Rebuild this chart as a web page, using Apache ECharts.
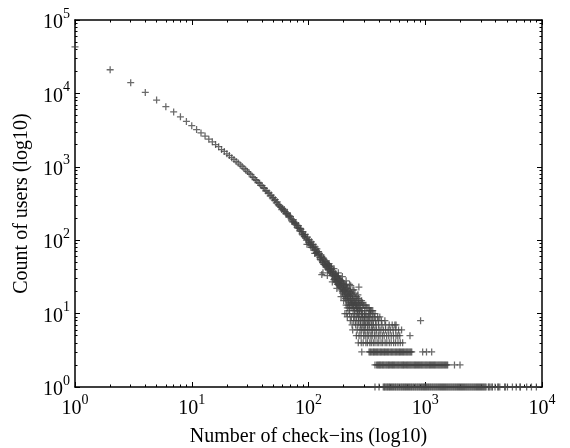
<!DOCTYPE html>
<html>
<head>
<meta charset="utf-8">
<script src="https://cdn.jsdelivr.net/npm/echarts@6/dist/echarts.min.js"></script>
<style>
  html, body { margin: 0; padding: 0; background: #fff; }
  #main { width: 570px; height: 448px; }
</style>
</head>
<body>
<div id="main"></div>
<script>
// check-in counts 1..30, one point each
var headX = [1, 2, 3, 4, 5, 6, 7, 8, 9, 10, 11, 12, 13, 14, 15, 16, 17, 18, 19, 20, 21, 22, 23, 24, 25, 26, 27, 28, 29, 30];
var headY = [43000, 21000, 14000, 10300, 8100, 6600, 5600, 4800, 4150, 3630, 3220, 2890, 2620, 2380, 2190, 2010, 1880, 1720, 1620, 1500, 1420, 1330, 1260, 1185, 1130, 1060, 1010, 950, 905, 860];

// the thick middle band, [check-ins, users]
var bandPoints = [
  [31, 822], [32, 786], [33, 731], [34, 712], [35, 668], [36, 652], [37, 611], [38, 598], [39, 560], [40, 552],
  [41, 520], [42, 509], [43, 470], [44, 471], [45, 437], [46, 441], [47, 401], [48, 412], [49, 376], [50, 380],
  [51, 351], [52, 356], [53, 322], [54, 333], [55, 306], [56, 300], [57, 289], [58, 281], [59, 262], [60, 271],
  [61, 250], [62, 262], [63, 245], [64, 230], [65, 228], [66, 236], [67, 220], [68, 206], [69, 215], [70, 210],
  [71, 195], [72, 184], [73, 178], [74, 190], [75, 178], [76, 165], [77, 172], [78, 170], [79, 160], [80, 150],
  [81, 146], [82, 158], [83, 145], [84, 134], [85, 145], [86, 141], [87, 131], [88, 122], [89, 118], [90, 130],
  [91, 119], [92, 112], [93, 114], [94, 120], [95, 106], [96, 100], [97, 88], [98, 110], [99, 101], [100, 94],
  [101, 88], [102, 101], [103, 92], [104, 86], [105, 80], [106, 95], [107, 87], [108, 79], [109, 83], [110, 88],
  [111, 79], [112, 73], [113, 66], [114, 81], [115, 74], [116, 66], [117, 68], [118, 76], [119, 70], [120, 62],
  [121, 64], [122, 70], [124, 66], [125, 58], [126, 55], [127, 54], [128, 63], [129, 58], [130, 60], [130, 34],
  [131, 52], [132, 50], [133, 49], [133, 36], [134, 57], [135, 47], [136, 55], [137, 47], [138, 52], [139, 45],
  [140, 52], [141, 43], [142, 50], [143, 44], [144, 47], [145, 42], [145, 33], [146, 48], [147, 40], [148, 46],
  [149, 39], [150, 45], [150, 48], [151, 41], [152, 44], [153, 37], [154, 38], [155, 36], [156, 41], [157, 43],
  [158, 40], [159, 35], [160, 34], [160, 27], [161, 33], [162, 36], [163, 38], [164, 37], [165, 29], [165, 41],
  [166, 32], [167, 30], [168, 34], [169, 29], [170, 35], [171, 27], [172, 33], [173, 28], [174, 31], [175, 27],
  [175, 22], [176, 32], [177, 25], [178, 30], [179, 26], [180, 33], [180, 36], [181, 25], [182, 30], [183, 24],
  [184, 28], [185, 24], [186, 29], [187, 23], [188, 28], [189, 21], [190, 26], [190, 17], [191, 22], [192, 28],
  [193, 24], [194, 27], [195, 20], [195, 32], [196, 19], [197, 21], [198, 26], [199, 23], [200, 25], [200, 15],
  [201, 18], [202, 21], [203, 20], [204, 24], [205, 17], [206, 23], [207, 16], [208, 21], [209, 18], [210, 25],
  [210, 28], [210, 13], [211, 19], [212, 22], [213, 15], [214, 16], [215, 17], [215, 12], [216, 22], [217, 18],
  [218, 20], [219, 13], [220, 14], [221, 16], [222, 21], [222, 11], [223, 17], [224, 19], [225, 12], [225, 25],
  [226, 13], [227, 15], [228, 20], [229, 16], [230, 18], [230, 24], [231, 14], [232, 12], [233, 19], [234, 14],
  [236, 15], [237, 13], [238, 16], [239, 18], [240, 12], [240, 21], [242, 13], [243, 12], [244, 14], [245, 17],
  [245, 21], [246, 15], [248, 11], [249, 14], [250, 12], [250, 19], [252, 13], [254, 16], [255, 14], [257, 13],
  [258, 12], [259, 17], [260, 11], [261, 15], [263, 12], [264, 11], [265, 18], [266, 13], [268, 14], [268, 16],
  [270, 12], [270, 23], [272, 11], [274, 13], [275, 15], [276, 11], [278, 12], [281, 14], [285, 11], [285, 15],
  [288, 12], [290, 14], [295, 13], [300, 13], [303, 11], [310, 13], [312, 12], [322, 12], [330, 12], [333, 11],
  [340, 11], [345, 11], [355, 11]
];

// tail: check-in values where the user count is 1, 2, ... 10
var ones = [371, 402, 437, 446, 452, 461, 470, 477, 487, 495, 503, 514, 522, 533, 542, 554, 562, 575, 584, 596,
  606, 619, 629, 642, 653, 667, 678, 691, 705, 717, 732, 744, 760, 772, 789, 802, 819, 832, 850, 864, 882, 897,
  916, 931, 951, 967, 987, 1003, 1024, 1041, 1063, 1081, 1104, 1122, 1146, 1165, 1189, 1210, 1234, 1256, 1281,
  1304, 1330, 1353, 1381, 1405, 1433, 1458, 1488, 1514, 1544, 1572, 1603, 1632, 1664, 1694, 1728, 1758, 1794,
  1825, 1862, 1895, 1933, 1967, 2006, 2042, 2083, 2120, 2162, 2201, 2244, 2285, 2330, 2372, 2419, 2462, 2511,
  2556, 2607, 2654, 2706, 2755, 2809, 2860, 2916, 2969, 3027, 3082, 3142, 3199, 3261, 3320,
  3470, 3520, 3590, 3720, 3760, 3960, 4180, 4230, 4350, 4790, 4850, 5060, 5580, 6010, 6480, 6520, 7390, 8120, 8950];
var twos = [371, 383, 391, 398, 406, 412, 420, 429, 436, 443, 452, 461, 469, 478, 486, 494, 504, 515, 524, 533,
  543, 552, 563, 574, 584, 594, 606, 618, 629, 641, 651, 662, 676, 690, 702, 715, 728, 741, 754, 768, 783, 798,
  812, 826, 842, 858, 874, 890, 907, 925, 941, 958, 977, 996, 1013, 1031, 1051, 1072, 1091, 1110, 1131, 1153,
  1175, 1197, 1218, 1240, 1265, 1290, 1314, 1338, 1362, 1386, 1412, 1440, 1467, 1495, 1525, 1555, 1780, 1985];
var threes = [286, 330, 336, 341, 348, 356, 361, 367, 374, 382, 388, 394, 402, 410, 416, 423, 432, 441, 448, 455,
  465, 474, 482, 490, 501, 511, 519, 528, 539, 550, 559, 569, 581, 593, 603, 613, 625, 638, 649, 660, 673, 687,
  699, 711, 725, 739, 752, 766, 950, 1025, 1135];
var fours = [267, 283, 294, 310, 320, 335, 345, 359, 371, 387, 400, 418, 432, 453, 469, 492, 511, 536, 557, 584, 611, 640];
var fives = [257, 271, 282, 297, 306, 318, 328, 342, 351, 367, 379, 396, 410, 429, 445, 467, 487, 511, 534, 561, 582, 605, 740];
var sixes = [239, 261, 276, 286, 298, 305, 319, 330, 344, 354, 370, 383, 402, 417, 438, 457, 481, 502, 531, 559, 591, 627];
var sevens = [236, 253, 265, 279, 288, 299, 308, 321, 332, 348, 360, 379, 399, 426, 457, 491, 521, 549, 562];
var eights = [228, 244, 255, 269, 278, 294, 303, 317, 328, 343, 357, 376, 396, 421, 451, 912];
var nines = [215, 233, 246, 259, 269, 282, 289, 301, 310, 323, 334, 351, 367, 391, 408];
var tens = [205, 213, 225, 241, 250, 263, 272, 286, 291, 302, 311, 326, 339, 357, 371];

var xMajor = [1, 10, 100, 1000, 10000];
var yMajor = [1, 10, 100, 1000, 10000, 100000];

// ---- build things ----
var points = [];
for (var i = 0; i < headX.length; i++) points.push([headX[i], headY[i]]);
bandPoints.forEach(function (p) { points.push(p); });
[ones, twos, threes, fours, fives, sixes, sevens, eights, nines, tens].forEach(function (arr, k) {
  arr.forEach(function (x) { points.push([x, k + 1]); });
});

function minors(major) {
  var out = [];
  for (var i = 0; i < major.length - 1; i++) {
    for (var m = 2; m <= 9; m++) out.push(m * major[i]);
  }
  return out;
}

var FONT = 'Liberation Serif';
var labelRich = {
  b: { fontFamily: FONT, fontSize: 20, color: '#000', lineHeight: 26, verticalAlign: 'bottom' },
  s: { fontFamily: FONT, fontSize: 14, color: '#000', lineHeight: 14, verticalAlign: 'top' }
};
function powLabel(v) {
  return '{b|10}{s|' + Math.round(Math.log(v) / Math.LN10) + '}';
}

function xAx(pos, ticks, len, line, label) {
  return {
    type: 'log', logBase: 10, min: 1, max: 10000, position: pos,
    axisLine: { show: line, onZero: false, lineStyle: { color: '#000', width: 1.5 } },
    axisTick: { show: true, inside: true, length: len, customValues: ticks, lineStyle: { color: '#000', width: 1 } },
    axisLabel: label ? { show: true, customValues: xMajor, margin: 6, formatter: powLabel, rich: labelRich } : { show: false },
    splitLine: { show: false },
    minorTick: { show: false }
  };
}
function yAx(pos, ticks, len, line, label) {
  return {
    type: 'log', logBase: 10, min: 1, max: 100000, position: pos,
    axisLine: { show: line, onZero: false, lineStyle: { color: '#000', width: 1.5 } },
    axisTick: { show: true, inside: true, length: len, customValues: ticks, lineStyle: { color: '#000', width: 1 } },
    axisLabel: label ? { show: true, customValues: yMajor, margin: 5, formatter: powLabel, rich: labelRich } : { show: false },
    splitLine: { show: false },
    minorTick: { show: false }
  };
}

var xMain = xAx('bottom', xMajor, 5, true, true);
xMain.name = 'Number of check\u2212ins (log10)';
xMain.nameLocation = 'middle';
xMain.nameGap = 40;
xMain.nameTextStyle = { fontFamily: FONT, fontSize: 20, color: '#000' };

var yMain = yAx('left', yMajor, 5, true, true);
yMain.name = 'Count of users (log10)';
yMain.nameLocation = 'middle';
yMain.nameGap = 43;
yMain.nameTextStyle = { fontFamily: FONT, fontSize: 20, color: '#000' };

var myChart = echarts.init(document.getElementById('main'), null, { renderer: 'canvas' });
var option = {
  backgroundColor: '#ffffff',
  animation: false,
  grid: { left: 75, right: 28, top: 20, bottom: 61, containLabel: false, outerBoundsMode: 'none' },
  xAxis: [
    xMain,
    xAx('bottom', minors(xMajor), 2.5, false, false),
    xAx('top', xMajor, 5, true, false),
    xAx('top', minors(xMajor), 2.5, false, false)
  ],
  yAxis: [
    yMain,
    yAx('left', minors(yMajor), 2.5, false, false),
    yAx('right', yMajor, 5, true, false),
    yAx('right', minors(yMajor), 2.5, false, false)
  ],
  series: [{
    type: 'scatter',
    xAxisIndex: 0,
    yAxisIndex: 0,
    clip: false,
    symbol: 'path://M0,4.1H10V5.9H0Z M4.1,0H5.9V10H4.1Z',
    symbolSize: 7,
    itemStyle: { color: '#454545' },
    data: points
  }]
};
myChart.setOption(option);
</script>
</body>
</html>
